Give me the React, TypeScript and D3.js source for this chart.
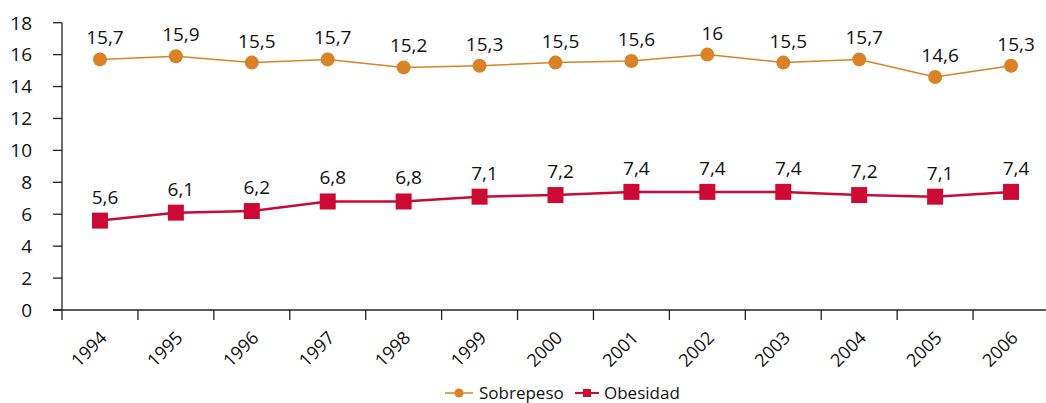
import React from "react";
import * as d3 from "d3";

const years = ["1994", "1995", "1996", "1997", "1998", "1999", "2000", "2001", "2002", "2003", "2004", "2005", "2006"];
const sobrepeso = [15.7, 15.9, 15.5, 15.7, 15.2, 15.3, 15.5, 15.6, 16, 15.5, 15.7, 14.6, 15.3];
const obesidad = [5.6, 6.1, 6.2, 6.8, 6.8, 7.1, 7.2, 7.4, 7.4, 7.4, 7.2, 7.1, 7.4];
const yTicks = [0, 2, 4, 6, 8, 10, 12, 14, 16, 18];

const ORANGE = "#DA8226";
const RED = "#CC0A34";
const FONT = "'Open Sans', sans-serif";
const INK = "#111";

const fmt = (v: number) => String(v).replace(".", ",");

export default function App() {
  const width = 1046;
  const height = 403;

  const x = d3.scaleBand<string>().domain(years).range([62, 1049]).padding(0);
  const y = d3.scaleLinear().domain([0, 18]).range([310, 22.7]);
  const cx = (d: string) => (x(d) as number) + x.bandwidth() / 2;

  const line = d3
    .line<number>()
    .x((_, i) => cx(years[i]))
    .y((v) => y(v));

  return (
    <svg
      width={width}
      height={height}
      style={{ position: "absolute", left: 0, top: 0, background: "#fff" }}
      fontFamily={FONT}
    >
      {/* y axis */}
      <line x1={62} x2={62} y1={y(18)} y2={y(0)} stroke="#222" strokeWidth={1.3} />
      {yTicks.map((t) => (
        <g key={t}>
          <line x1={53} x2={62} y1={y(t)} y2={y(t)} stroke="#222" strokeWidth={1.3} />
          <text x={32} y={y(t)} dy="0.36em" textAnchor="end" fontSize={19} fill={INK}>
            {t}
          </text>
        </g>
      ))}

      {/* x axis */}
      <line x1={53} x2={1046} y1={y(0)} y2={y(0)} stroke="#222" strokeWidth={1.3} />
      {years.map((yr) => (
        <line
          key={"t" + yr}
          x1={x(yr) as number}
          x2={x(yr) as number}
          y1={y(0)}
          y2={y(0) + 10}
          stroke="#222"
          strokeWidth={1.3}
        />
      ))}
      {years.map((yr) => (
        <text
          key={"l" + yr}
          transform={`translate(${cx(yr) + 8},${339}) rotate(-45)`}
          textAnchor="end"
          fontSize={18}
          fill={INK}
        >
          {yr}
        </text>
      ))}

      {/* sobrepeso */}
      <path d={line(sobrepeso) || ""} fill="none" stroke={ORANGE} strokeWidth={1.5} />
      {sobrepeso.map((v, i) => (
        <circle key={"c" + i} cx={cx(years[i])} cy={y(v)} r={7} fill={ORANGE} />
      ))}
      {sobrepeso.map((v, i) => (
        <text
          key={"sv" + i}
          x={cx(years[i]) + 5}
          y={y(v) - 15}
          textAnchor="middle"
          fontSize={19}
          fill={INK}
        >
          {fmt(v)}
        </text>
      ))}

      {/* obesidad */}
      <path d={line(obesidad) || ""} fill="none" stroke={RED} strokeWidth={2.5} />
      {obesidad.map((v, i) => (
        <rect key={"r" + i} x={cx(years[i]) - 8} y={y(v) - 8} width={16} height={16} fill={RED} />
      ))}
      {obesidad.map((v, i) => (
        <text
          key={"ov" + i}
          x={cx(years[i]) + 5}
          y={y(v) - 17}
          textAnchor="middle"
          fontSize={19}
          fill={INK}
        >
          {fmt(v)}
        </text>
      ))}

      {/* legend */}
      <line x1={445} x2={473} y1={393} y2={393} stroke={ORANGE} strokeWidth={1.5} />
      <circle cx={459} cy={393} r={4.5} fill={ORANGE} />
      <text x={479} y={393} dy="0.35em" fontSize={17} fill={INK}>
        Sobrepeso
      </text>
      <line x1={575} x2={599} y1={393} y2={393} stroke={RED} strokeWidth={2} />
      <rect x={583} y={389} width={8} height={8} fill={RED} />
      <text x={604} y={393} dy="0.35em" fontSize={17} fill={INK}>
        Obesidad
      </text>
    </svg>
  );
}
